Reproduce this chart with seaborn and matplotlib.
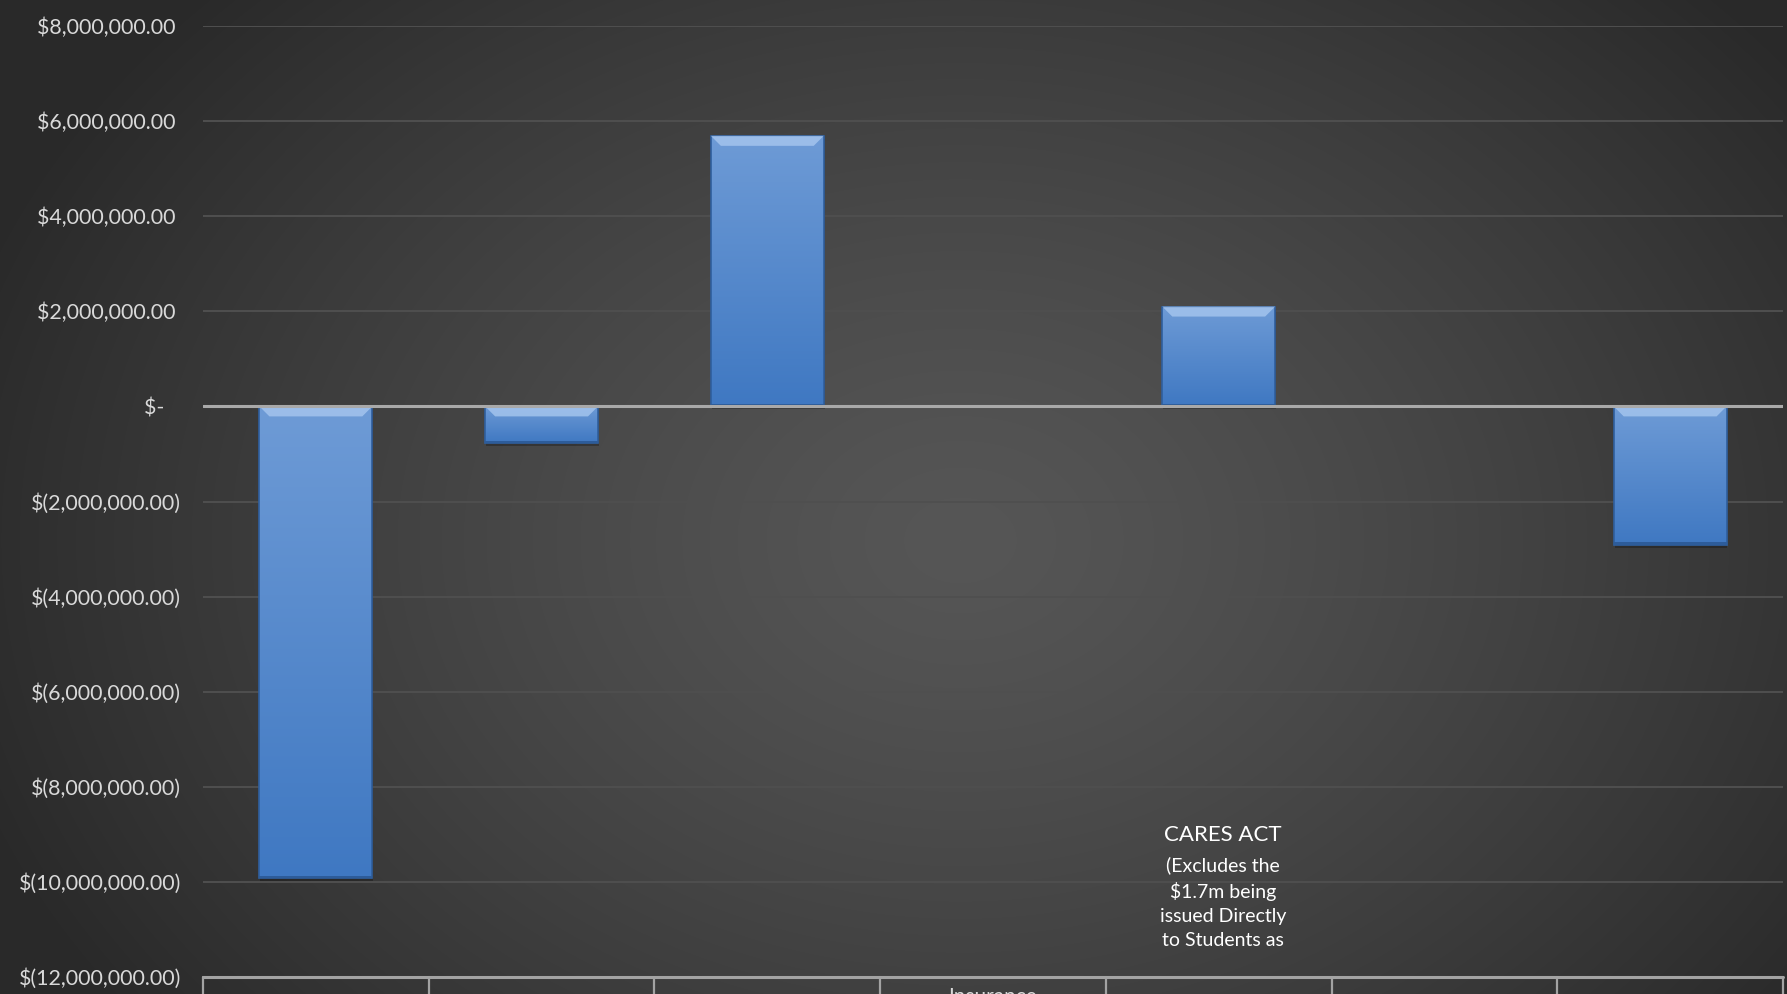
import numpy as np
import pandas as pd
import matplotlib
matplotlib.use("Agg")
import matplotlib.pyplot as plt
import seaborn as sns
from matplotlib.ticker import FuncFormatter, MultipleLocator
from matplotlib.patches import Polygon

# ---------------- data ----------------
category_keys = ["c1", "c2", "c3", "c4", "c5", "c6", "c7"]
category_labels = ["", "", "", "Insurance", "", "", ""]
cares_title = "CARES ACT"
cares_note = "(Excludes the\n$1.7m being\nissued Directly\nto Students as"
values = [-9.92e6, -0.78e6, 5.69e6, 0.0, 2.10e6, 0.0, -2.91e6]
y_ticks = [8e6, 6e6, 4e6, 2e6, 0, -2e6, -4e6, -6e6, -8e6, -10e6, -12e6]

df = pd.DataFrame({"key": category_keys, "value": values})

# ---------------- style ----------------
sns.set_theme(style="dark")
plt.rcParams["font.family"] = ["Lato", "DejaVu Sans"]
TXT = "#d9d9d9"

W, H, DPI = 1787, 994, 100
fig = plt.figure(figsize=(W / DPI, H / DPI), dpi=DPI)

# background radial gradient
bg = fig.add_axes([0, 0, 1, 1], zorder=-10)
yy, xx = np.mgrid[0:H, 0:W]
cx, cy = 960, 540
r = np.sqrt(((xx - cx) / 1050.0) ** 2 + ((yy - cy) / 800.0) ** 2)
r = np.clip(r, 0, 1)
c_in, c_out = 0x56 / 255, 0x29 / 255
g = c_in + (c_out - c_in) * r ** 1.3
bg.imshow(np.dstack([g, g, g]), aspect="auto", extent=[0, 1, 0, 1], origin="upper")
bg.set_axis_off()

# main axes
left, right = 203 / W, 1783 / W
top, bottom = 1 - 26 / H, 1 - 977 / H
ax = fig.add_axes([left, bottom, right - left, top - bottom])
ax.patch.set_alpha(0)

sns.barplot(data=df, x="key", y="value", order=category_keys, width=0.5,
            color="#4a82cb", saturation=1, ax=ax, zorder=3)

ax.set_ylim(-12e6, 8e6)
ax.set_xlim(-0.5, len(category_keys) - 0.5)
ax.yaxis.set_major_locator(MultipleLocator(2e6))


def money(v, _):
    if abs(v) < 1:
        return "$-   "
    if v < 0:
        return f"$({abs(v):,.2f})"
    return f"${v:,.2f} "


ax.yaxis.set_major_formatter(FuncFormatter(money))
ax.tick_params(axis="y", colors=TXT, labelsize=15.4, length=0, pad=15.7)
ax.tick_params(axis="x", length=0, labelbottom=False)
ax.set_xlabel("")
ax.set_ylabel("")
for s in ax.spines.values():
    s.set_visible(False)

ax.grid(False)
for t in y_ticks:
    if t == 0:
        ax.axhline(t, color="#a9a9a9", lw=2.2, zorder=4)
    elif t == -12e6:
        ax.axhline(t, color="#a3a3a3", lw=2.2, zorder=4, clip_on=False)
    else:
        ax.axhline(t, color="#4f4f4f", lw=1.4, zorder=1)

# bar shading: gradient + top bevel highlight + shadow
fig.canvas.draw()
px_per_x = ax.transData.transform((1, 0))[0] - ax.transData.transform((0, 0))[0]
px_per_y = ax.transData.transform((0, 1e6))[1] - ax.transData.transform((0, 0))[1]
bev_x = 10 / px_per_x
bev_y = 10 / px_per_y * 1e6
grad = np.linspace(0, 1, 256).reshape(-1, 1)
top_c = np.array([0x6e, 0x9b, 0xd6]) / 255
bot_c = np.array([0x3f, 0x78, 0xc2]) / 255
for p in list(ax.patches):
    h = p.get_height()
    if abs(h) < 1:
        p.set_visible(False)
        continue
    x0, w = p.get_x(), p.get_width()
    y_lo, y_hi = min(0, h), max(0, h)
    # shadow
    sh = plt.Rectangle((x0 + 0.004, y_lo - 0.06e6), w, y_hi - y_lo,
                       facecolor="black", alpha=0.25, edgecolor="none", zorder=2.5)
    ax.add_patch(sh)
    img = top_c[None, None, :] * (1 - grad[:, :, None]) + bot_c[None, None, :] * grad[:, :, None]
    im = ax.imshow(img, extent=[x0, x0 + w, y_lo, y_hi], aspect="auto",
                   origin="upper", zorder=3.2)
    im.set_clip_path(p)
    p.set_edgecolor("#2f5f9e")
    p.set_linewidth(1.2)
    p.set_zorder(3.3)
    p.set_facecolor("none")
    # top bevel
    bevel = Polygon([[x0, y_hi], [x0 + w, y_hi], [x0 + w - bev_x, y_hi - bev_y],
                     [x0 + bev_x, y_hi - bev_y]], closed=True,
                    facecolor="#a7c7ef", edgecolor="none", alpha=0.8, zorder=3.4)
    ax.add_patch(bevel)
    # bottom dark edge
    ax.add_patch(plt.Rectangle((x0, y_lo), w, 0.05e6, facecolor="#2d5c9a",
                               edgecolor="none", zorder=3.4))

ax.set_ylim(-12e6, 8e6)
ax.set_xlim(-0.5, len(category_keys) - 0.5)

# data-table vertical lines below the axis
for i in range(len(category_keys) + 1):
    ax.plot([i - 0.5, i - 0.5], [-12e6, -13e6], color="#a3a3a3", lw=1.6,
            clip_on=False, zorder=4)

# category labels (cut off by the figure edge, as in the source)
for i, lab in enumerate(category_labels):
    if lab:
        ax.text(i, -12.2e6, lab, ha="center", va="top", color=TXT,
                fontsize=15, clip_on=False)

# CARES ACT label
ax.text(4.02, -9.02e6, cares_title, ha="center", va="center", color="white",
        fontsize=16, zorder=5)
ax.text(4.02, -9.46e6, cares_note, ha="center", va="top", color="white",
        fontsize=14, linespacing=1.5, zorder=5)

fig.savefig("out.png", dpi=DPI)
